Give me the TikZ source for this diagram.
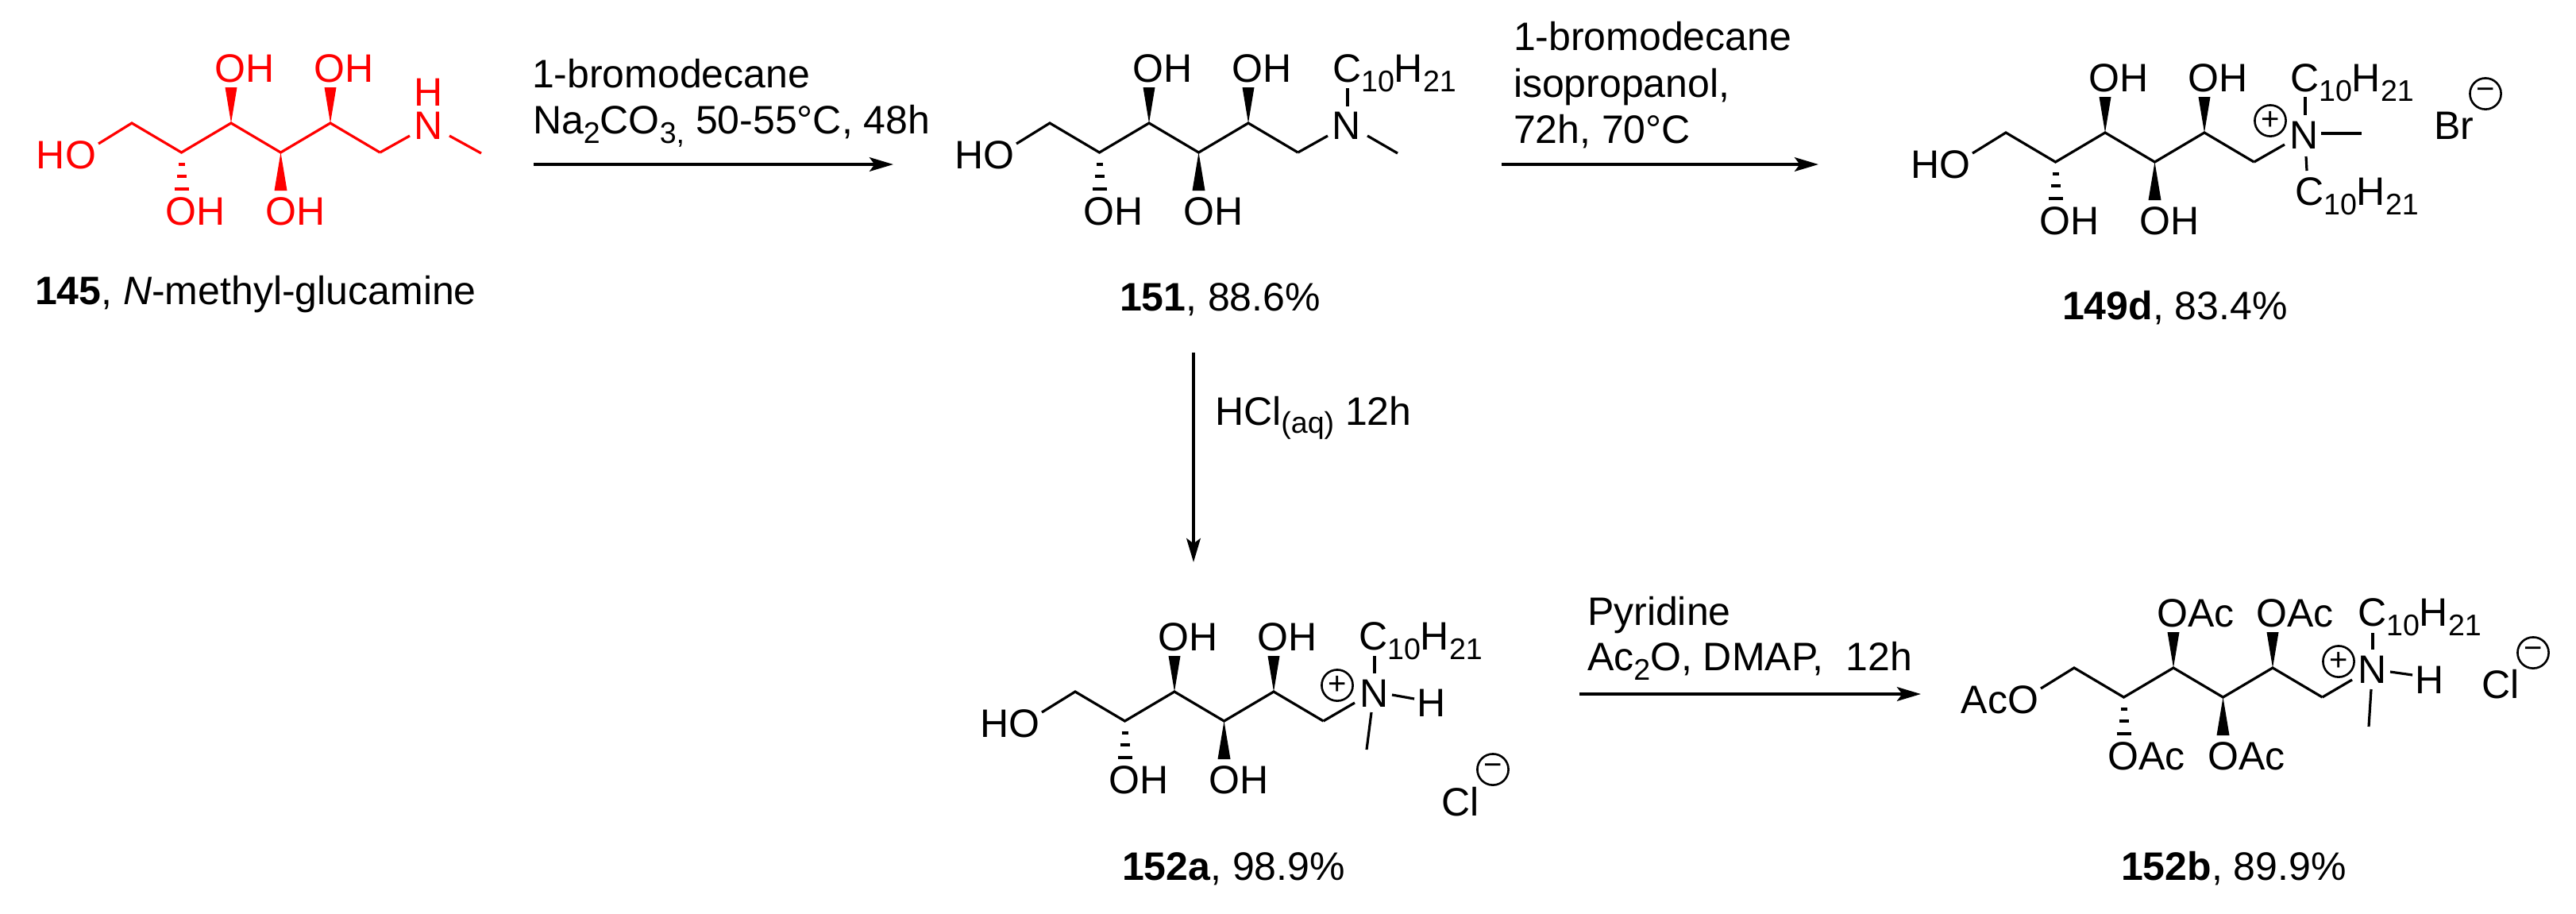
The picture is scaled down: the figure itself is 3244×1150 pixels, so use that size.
\documentclass[tikz,border=0pt]{standalone}
\usepackage{fontspec}
\setmainfont{Liberation Sans}
\usetikzlibrary{arrows.meta}
\newcommand{\chemfont}{\fontsize{12.5pt}{15pt}\selectfont}
\newcommand{\sbs}[1]{\raisebox{-3pt}{\fontsize{9.4pt}{9.4pt}\selectfont #1}}
\tikzset{
  txt/.style={anchor=base west,inner sep=0pt,outer sep=0pt,font=\chemfont},
  txtr/.style={anchor=base east,inner sep=0pt,outer sep=0pt,font=\chemfont},
  bond/.style={line width=.8pt,line join=miter},
  hash/.style={line width=.8pt},
  rxn/.style={line width=1pt,-{Stealth[length=7.5pt,width=4.4pt,inset=1.6pt]}},
  chg/.style={circle,draw,line width=.65pt,minimum size=9.8pt,inner sep=0pt,outer sep=0pt,font=\fontsize{10pt}{10pt}\selectfont},
}
% prefix, dx, dy, colour, substituent, terminal label
\newcommand{\sugar}[6]{%
\begin{scope}[shift={(#2,#3)},color=#4]
  \coordinate (#1c1) at (166,155);
  \coordinate (#1c2) at (228.5,192);
  \coordinate (#1c3) at (291,155);
  \coordinate (#1c4) at (353.5,192);
  \coordinate (#1c5) at (416,155);
  \coordinate (#1c6) at (478.5,192);
  \coordinate (#1oe) at (124,181);
  \node[txtr] (#1ho) at (121,212) {#6};
  \node[txt] (#1s3) at (270.5,103) {#5};
  \node[txt] (#1s5) at (395.5,103) {#5};
  \node[txt] (#1s2) at (208.5,283) {#5};
  \node[txt] (#1s4) at (334.5,283) {#5};
  \draw[bond] (#1oe) -- (#1c1) -- (#1c2) -- (#1c3) -- (#1c4) -- (#1c5) -- (#1c6);
  \fill (#1c3) -- +(-7.5,-45) -- +(7.5,-45) -- cycle;
  \fill (#1c5) -- +(-7.5,-45) -- +(7.5,-45) -- cycle;
  \fill (#1c4) -- +(-8,48) -- +(8,48) -- cycle;
  \draw[hash] (#1c2) ++(-4,15) -- ++(8,0);
  \draw[hash] (#1c2) ++(-6,30) -- ++(12,0);
  \draw[hash] (#1c2) ++(-9,46) -- ++(18,0);
\end{scope}}
\begin{document}
\begin{tikzpicture}[x=.25pt,y=-.25pt]
\useasboundingbox (0,0) rectangle (3244,1150);
% 145
\sugar{a}{0}{0}{red}{OH}{HO}
\begin{scope}[color=red]
  \node[txt] (aN) at (521,175) {N};
  \node[txt] (aH) at (521,133) {H};
  \coordinate (aNl) at (516,171);
  \coordinate (aNr) at (566,171);
  \coordinate (aMe) at (606,193);
  \draw[bond] (ac6) -- (aNl);
  \draw[bond] (aNr) -- (aMe);
\end{scope}
\node[txt] (alabel) at (44,383) {\textbf{145}, \textit{N}-methyl-glucamine};
% 151
\sugar{b}{1156}{0}{black}{OH}{HO}
\node[txt] (bN) at (1677,175) {N};
\node[txt] (bR) at (1678,103) {C\sbs{10}H\sbs{21}};
\coordinate (bNl) at (1672,171);
\coordinate (bNr) at (1722,171);
\coordinate (bMe) at (1760,193);
\coordinate (bRa) at (1697,111);
\coordinate (bRb) at (1697,134);
\draw[bond] (bc6) -- (bNl);
\draw[bond] (bNr) -- (bMe);
\draw[bond] (bRa) -- (bRb);
\node[txt] (blabel) at (1410,391) {\textbf{151}, 88.6\%};
% 149d
\sugar{c}{2360}{12}{black}{OH}{HO}
\node[txt] (cN) at (2883,187) {N};
\node[chg] (cplus) at (2859,152) {+};
\node[txt] (cR) at (2884,115) {C\sbs{10}H\sbs{21}};
\node[txt] (cRb) at (2890,258) {C\sbs{10}H\sbs{21}};
\node[txt] (cBr) at (3065,175) {Br};
\node[chg] (cminus) at (3130,118) {−};
\coordinate (cNl) at (2877,182);
\coordinate (cMa) at (2923,168);
\coordinate (cMb) at (2974,168);
\coordinate (cTa) at (2903,122);
\coordinate (cTb) at (2903,145);
\coordinate (cUa) at (2904,197);
\coordinate (cUb) at (2905,215);
\draw[bond] (cc6) -- (cNl);
\draw[bond] (cMa) -- (cMb);
\draw[bond] (cTa) -- (cTb);
\draw[bond] (cUa) -- (cUb);
\node[txt] (clabel) at (2597,402) {\textbf{149d}, 83.4\%};
% 152a
\sugar{d}{1188}{716}{black}{OH}{HO}
\node[txt] (dN) at (1712,890) {N};
\node[chg] (dplus) at (1684,863) {+};
\node[txt] (dR) at (1711,818) {C\sbs{10}H\sbs{21}};
\node[txt] (dH) at (1784,902) {H};
\node[txt] (dCl) at (1815,1027) {Cl};
\node[chg] (dminus) at (1880,969) {−};
\coordinate (dNl) at (1706,885);
\coordinate (dTa) at (1731,826);
\coordinate (dTb) at (1731,848);
\coordinate (dHa) at (1753,875);
\coordinate (dHb) at (1781,880);
\coordinate (dMa) at (1727,897);
\coordinate (dMb) at (1721,944);
\draw[bond] (dc6) -- (dNl);
\draw[bond] (dTa) -- (dTb);
\draw[bond] (dHa) -- (dHb);
\draw[bond] (dMa) -- (dMb);
\node[txt] (dlabel) at (1413,1108) {\textbf{152a}, 98.9\%};
% 152b
\sugar{e}{2446}{686}{black}{OAc}{AcO}
\node[txt] (eN) at (2969,860) {N};
\node[chg] (eplus) at (2945,833) {+};
\node[txt] (eR) at (2969,788) {C\sbs{10}H\sbs{21}};
\node[txt] (eH) at (3041,873) {H};
\node[txt] (eCl) at (3125,879) {Cl};
\node[chg] (eminus) at (3190,822) {−};
\coordinate (eNl) at (2962,856);
\coordinate (eTa) at (2988,797);
\coordinate (eTb) at (2988,818);
\coordinate (eHa) at (3010,846);
\coordinate (eHb) at (3038,850);
\coordinate (eMa) at (2986,868);
\coordinate (eMb) at (2983,915);
\draw[bond] (ec6) -- (eNl);
\draw[bond] (eTa) -- (eTb);
\draw[bond] (eHa) -- (eHb);
\draw[bond] (eMa) -- (eMb);
\node[txt] (elabel) at (2671,1108) {\textbf{152b}, 89.9\%};
% reactions
\coordinate (r1a) at (672,207);
\coordinate (r1b) at (1125,207);
\coordinate (r2a) at (1891,207);
\coordinate (r2b) at (2290,207);
\coordinate (r3a) at (1503,444);
\coordinate (r3b) at (1503,708);
\coordinate (r4a) at (1989,874);
\coordinate (r4b) at (2419,874);
\draw[rxn] (r1a) -- (r1b);
\draw[rxn] (r2a) -- (r2b);
\draw[rxn] (r3a) -- (r3b);
\draw[rxn] (r4a) -- (r4b);
\node[txt] (r1t1) at (670,110) {1-bromodecane};
\node[txt] (r1t2) at (671,168) {Na\sbs{2}CO\sbs{3,} 50-55°C, 48h};
\node[txt] (r2t1) at (1906,63) {1-bromodecane};
\node[txt] (r2t2) at (1906,122) {isopropanol,};
\node[txt] (r2t3) at (1906,180) {72h, 70°C};
\node[txt] (r3t) at (1530,535) {HCl{\raisebox{-2.5pt}{\fontsize{9.4pt}{9.4pt}\selectfont (aq)}} 12h};
\node[txt] (r4t1) at (1999,787) {Pyridine};
\node[txt] (r4t2) at (1999,844) {Ac\sbs{2}O, DMAP,~ 12h};
\end{tikzpicture}
\end{document}
